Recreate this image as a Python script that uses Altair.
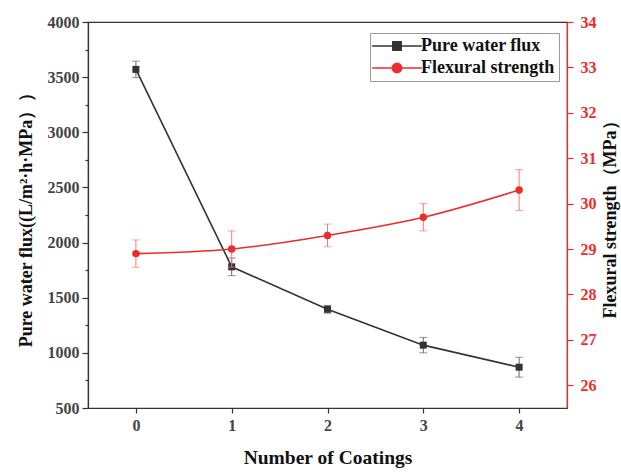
import altair as alt
import pandas as pd

# Measurements per number of coatings
coatings = [0, 1, 2, 3, 4]
flux = [3570, 1780, 1395, 1070, 870]
flux_err = [75, 80, 35, 70, 90]
strength = [28.9, 29.0, 29.3, 29.7, 30.3]
strength_err = [0.3, 0.4, 0.25, 0.3, 0.45]
series_names = ["Pure water flux", "Flexural strength"]

# Axis tick positions (majors labelled, halves as minor ticks)
x_ticks = [0, 0.5, 1, 1.5, 2, 2.5, 3, 3.5, 4]
flux_ticks = [500, 750, 1000, 1250, 1500, 1750, 2000, 2250, 2500, 2750,
              3000, 3250, 3500, 3750, 4000]
strength_ticks = [26, 26.5, 27, 27.5, 28, 28.5, 29, 29.5, 30, 30.5,
                  31, 31.5, 32, 32.5, 33, 33.5, 34]

df = pd.DataFrame({
    "coat": coatings,
    "flux": flux,
    "flux_lo": [v - e for v, e in zip(flux, flux_err)],
    "flux_hi": [v + e for v, e in zip(flux, flux_err)],
    "strength": strength,
    "str_lo": [v - e for v, e in zip(strength, strength_err)],
    "str_hi": [v + e for v, e in zip(strength, strength_err)],
})

FONT = "Liberation Serif"
BLACK = "#333333"
RED = "#ee2b2b"
RED_LIGHT = "#f27a7a"

base = alt.Chart(df)

x_enc = alt.X(
    "coat:Q",
    scale=alt.Scale(domain=[-0.5, 4.5], nice=False, zero=False),
    axis=alt.Axis(
        title="Number of Coatings",
        values=x_ticks,
        format="d",
        labelExpr="datum.value % 1 === 0 ? datum.label : ''",
        tickSize={"condition": {"test": "datum.value % 1 === 0", "value": 5}, "value": 3},
        labelPadding=4,
        titlePadding=15,
    ),
)

flux_scale = alt.Scale(domain=[500, 4000], nice=False, zero=False)
flux_axis = alt.Axis(
    title="Pure water flux((L/m²·h·MPa））",
    orient="left",
    values=flux_ticks,
    labelExpr="datum.value % 500 === 0 ? datum.label : ''",
    tickSize={"condition": {"test": "datum.value % 500 === 0", "value": 6}, "value": 3},
    labelPadding=3,
    titlePadding=12,
    format="d",
)

str_scale = alt.Scale(domain=[25.5, 34], nice=False, zero=False)
str_axis = alt.Axis(
    title="Flexural strength（MPa）",
    orient="right",
    values=strength_ticks,
    format="d",
    labelExpr="datum.value % 1 === 0 ? datum.label : ''",
    tickSize={"condition": {"test": "datum.value % 1 === 0", "value": 6}, "value": 3},
    labelPadding=7,
    titlePadding=5,
    titleAngle=270,
    titleBaseline="top",
    domainColor=RED,
    tickColor=RED,
    labelColor=RED,
    titleColor="#111111",
)

# Pure water flux (left axis)
flux_line = base.mark_line(color=BLACK, strokeWidth=1.6).encode(
    x=x_enc, y=alt.Y("flux:Q", scale=flux_scale, axis=flux_axis)
)
flux_bar = base.mark_rule(color="#666666", strokeWidth=1).encode(
    x="coat:Q", y=alt.Y("flux_lo:Q", scale=flux_scale, axis=flux_axis), y2="flux_hi:Q"
)
flux_cap_lo = base.mark_tick(orient="horizontal", size=8, thickness=1, color="#666666").encode(
    x="coat:Q", y=alt.Y("flux_lo:Q", scale=flux_scale, axis=flux_axis)
)
flux_cap_hi = base.mark_tick(orient="horizontal", size=8, thickness=1, color="#666666").encode(
    x="coat:Q", y=alt.Y("flux_hi:Q", scale=flux_scale, axis=flux_axis)
)
flux_pts = base.mark_point(shape="square", filled=True, size=49, color=BLACK, opacity=1).encode(
    x="coat:Q", y=alt.Y("flux:Q", scale=flux_scale, axis=flux_axis)
)

# Legend symbols: a short line with the series marker in the middle
square_path = "M-7.1,0H7.1M-1.2,-1.2H1.2V1.2H-1.2Z"
circle_path = "M-7.1,0H7.1M1.35,0A1.35,1.35 0 1,1 -1.35,0A1.35,1.35 0 1,1 1.35,0Z"
legend_df = pd.DataFrame({"series": series_names})
legend_props = dict(
    title=None,
    orient="none",
    legendX=282,
    legendY=11,
    labelFont=FONT,
    labelFontSize=18,
    labelFontWeight="bold",
    labelColor="#111111",
    strokeColor="#9a9a9a",
    fillColor="white",
    padding=4,
    symbolSize=49,
    symbolStrokeWidth=1.5,
    symbolOffset=14,
    labelOffset=15,
    rowPadding=4,
)
legend_layer = alt.Chart(legend_df).transform_filter("false").mark_point(
    filled=True, size=49, strokeWidth=1.5, opacity=1
).encode(
    fill=alt.Fill("series:N", scale=alt.Scale(domain=series_names, range=[BLACK, RED]),
                  legend=alt.Legend(**legend_props)),
    stroke=alt.Stroke("series:N", scale=alt.Scale(domain=series_names, range=[BLACK, RED]),
                      legend=alt.Legend(**legend_props)),
    shape=alt.Shape("series:N", scale=alt.Scale(domain=series_names, range=[square_path, circle_path]),
                    legend=alt.Legend(**legend_props)),
)

flux_group = alt.layer(flux_bar, flux_cap_lo, flux_cap_hi, flux_line, flux_pts, legend_layer)

# Flexural strength (right axis)
str_line = base.mark_line(color=RED, strokeWidth=1.6, interpolate="monotone").encode(
    x=x_enc, y=alt.Y("strength:Q", scale=str_scale, axis=str_axis)
)
str_bar = base.mark_rule(color=RED_LIGHT, strokeWidth=1).encode(
    x="coat:Q", y=alt.Y("str_lo:Q", scale=str_scale, axis=str_axis), y2="str_hi:Q"
)
str_cap_lo = base.mark_tick(orient="horizontal", size=8, thickness=1, color=RED_LIGHT).encode(
    x="coat:Q", y=alt.Y("str_lo:Q", scale=str_scale, axis=str_axis)
)
str_cap_hi = base.mark_tick(orient="horizontal", size=8, thickness=1, color=RED_LIGHT).encode(
    x="coat:Q", y=alt.Y("str_hi:Q", scale=str_scale, axis=str_axis)
)
str_pts = base.mark_point(shape="circle", filled=True, size=55, color=RED, opacity=1).encode(
    x="coat:Q", y=alt.Y("strength:Q", scale=str_scale, axis=str_axis)
)
str_group = alt.layer(str_bar, str_cap_lo, str_cap_hi, str_line, str_pts)

chart = (
    alt.layer(flux_group, str_group)
    .resolve_scale(y="independent")
    .properties(
        width=479,
        height=386,
        autosize=alt.AutoSizeParams(type="none"),
        padding={"left": 88, "top": 22, "right": 54, "bottom": 65},
        background="white",
    )
    .configure_view(stroke=BLACK, strokeWidth=1.2)
    .configure_axis(
        grid=False,
        domainColor=BLACK,
        domainWidth=1.2,
        tickColor=BLACK,
        tickWidth=1.2,
        labelFont=FONT,
        labelFontSize=16,
        labelFontWeight="bold",
        labelColor="#444444",
        titleFont=FONT,
        titleFontSize=18,
        titleFontWeight="bold",
        titleColor="#111111",
    )
    .configure_axisX(titleFontSize=19.5)
)

chart.save("out.html", embed_options={"renderer": "svg", "actions": False})
